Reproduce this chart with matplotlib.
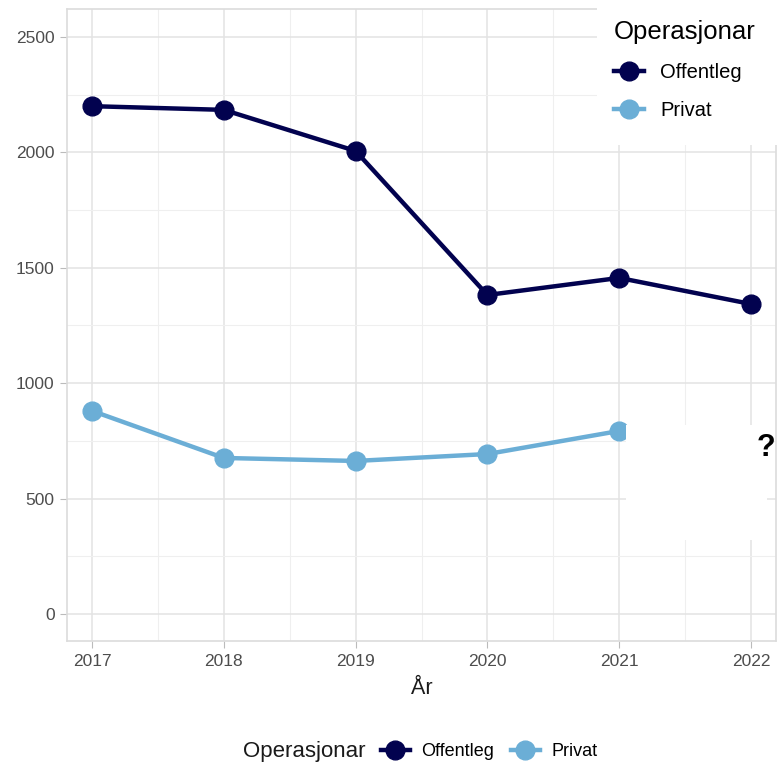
import matplotlib.pyplot as plt
from matplotlib.patches import Rectangle
from matplotlib.lines import Line2D

years = [2017, 2018, 2019, 2020, 2021, 2022]
offentleg = [2200, 2184, 2006, 1382, 1456, 1343]
privat = [880, 676, 663, 693, 793]
series_names = ["Offentleg", "Privat"]
colors = ["#02024f", "#6baed6"]

plt.rcParams['font.family'] = ['Liberation Sans', 'DejaVu Sans']

W, H = 777, 765
fig = plt.figure(figsize=(W / 100, H / 100), dpi=100)
ax = fig.add_axes([67 / W, (H - 641) / H, (776 - 67) / W, (641 - 9) / H])

ax.plot(years, offentleg, color=colors[0], lw=3.2, marker='o', ms=13.5, zorder=3)
ax.plot(years[:len(privat)], privat, color=colors[1], lw=3.2, marker='o', ms=13.5, zorder=3)

ax.set_xlim(2016.81, 2022.19)
ax.set_ylim(-117, 2621)
ax.set_xticks(years)
ax.set_xticks([y + 0.5 for y in years[:-1]], minor=True)
ax.set_yticks(range(0, 2501, 500))
ax.set_yticks(range(250, 2501, 500), minor=True)
ax.grid(which='major', color='#e3e3e3', lw=1.1, zorder=0)
ax.grid(which='minor', color='#efefef', lw=0.8, zorder=0)
ax.set_axisbelow(True)
for s in ax.spines.values():
    s.set_color('#dcdcdc')
    s.set_linewidth(1.2)
ax.tick_params(axis='both', which='major', length=5, color='#bbbbbb',
               labelcolor='#4d4d4d', labelsize=12.5, pad=4)
ax.tick_params(which='minor', length=0)
ax.set_xlabel("År", fontsize=15.5, color='#1a1a1a', labelpad=7)

# white box hiding the last Privat point, with question mark
ax.add_patch(Rectangle((626 / W, (H - 540) / H), (767 - 626) / W, (540 - 425) / H,
                       transform=fig.transFigure, facecolor='white', edgecolor='none',
                       zorder=5, clip_on=False))
fig.text(775 / W, (H - 448) / H, "?", fontsize=22, fontweight='bold', ha='right',
         va='center', color='black', zorder=6)

# top-right legend overlay
ax.add_patch(Rectangle((597 / W, (H - 145) / H), (W - 597) / W, 145 / H,
                       transform=fig.transFigure, facecolor='white', edgecolor='none',
                       zorder=5, clip_on=False))
handles = [Line2D([], [], color=c, lw=3.2, marker='o', ms=13.5) for c in colors]
leg = fig.legend(handles, series_names, loc='upper left',
                 bbox_to_anchor=(596 / W, 1 - 2 / H), frameon=False,
                 title="Operasjonar", fontsize=14.5, title_fontsize=18.5,
                 handlelength=1.5, handletextpad=0.8, labelspacing=0.95,
                 alignment='left')
leg.set_zorder(7)

# bottom legend
fig.text(243 / W, (H - 752) / H, "Operasjonar", fontsize=16, color='#1a1a1a',
         ha='left', va='center')
fig.legend(handles, series_names, loc='center left',
           bbox_to_anchor=(381 / W, (H - 752) / H), frameon=False, ncol=2,
           fontsize=13, handlelength=1.6, handletextpad=0.65, columnspacing=0.9,
           borderpad=0, borderaxespad=0)

fig.savefig("out.png", dpi=100)
